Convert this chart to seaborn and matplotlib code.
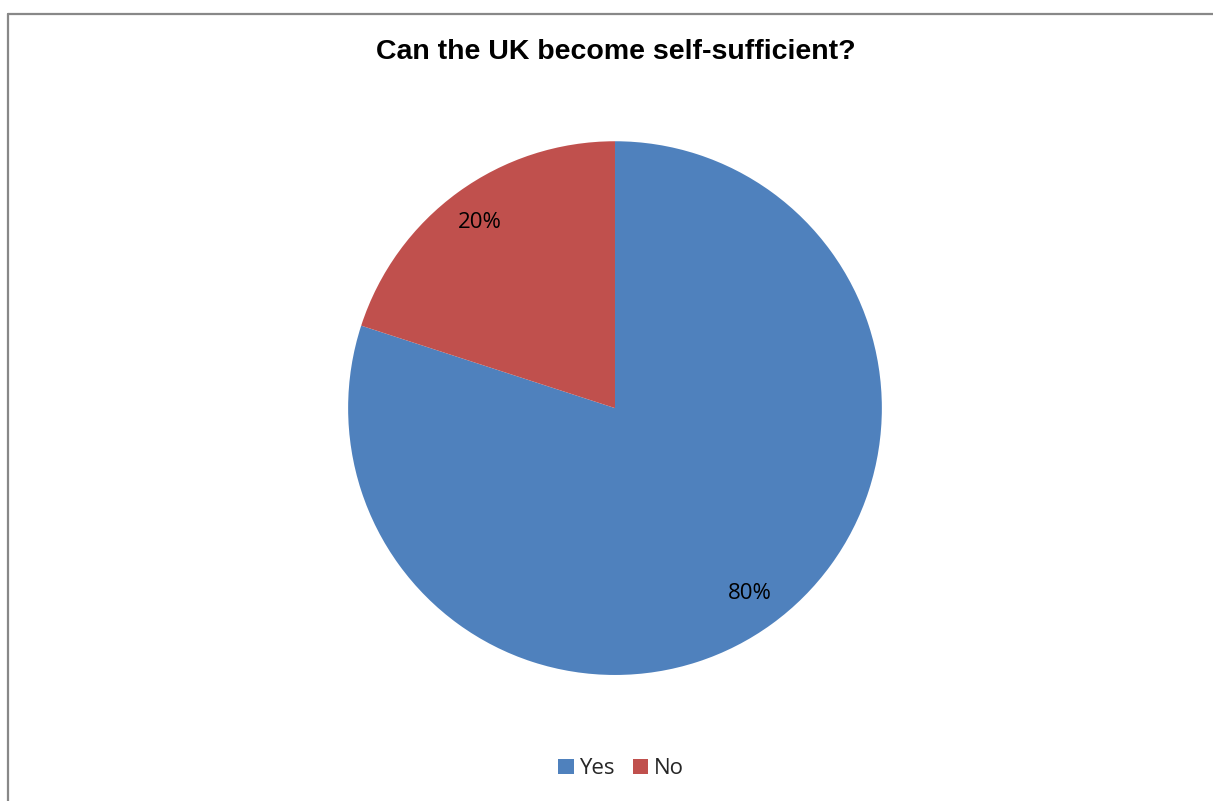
import matplotlib
matplotlib.use("Agg")
import matplotlib.pyplot as plt
import seaborn as sns
from matplotlib.lines import Line2D
from matplotlib.patches import Patch

# data
answers = ["Yes", "No"]
shares = [80, 20]
colors = ["#4F81BD", "#C0504D"]
title = "Can the UK become self-sufficient?"

sns.set_theme(style="white")
plt.rcParams["font.family"] = ["Liberation Sans", "DejaVu Sans"]
label_font = ["Open Sans", "DejaVu Sans"]

fig = plt.figure(figsize=(12.13, 8.01), dpi=100)
fig.patch.set_facecolor("white")

# axes placed so the pie sits where it does in the reference
ax = fig.add_axes([0.287, 0.157, 0.440, 0.667])
wedges, texts, autotexts = ax.pie(
    shares, colors=colors, startangle=90, counterclock=False,
    autopct="%1.0f%%", pctdistance=0.86,
    wedgeprops=dict(linewidth=0),
    textprops=dict(fontsize=16, color="black", family=label_font),
)
ax.set_aspect("equal")
ax.set_xlim(-1, 1)
ax.set_ylim(-1, 1)
ax.axis("off")

fig.text(0.508, 0.935, title, ha="center", va="center",
         fontsize=20.5, fontweight="bold", color="black")

handles = [Patch(facecolor=c, edgecolor="none", label=a) for a, c in zip(answers, colors)]
fig.legend(handles=handles, loc="center", bbox_to_anchor=(0.512, 0.040), ncol=2,
           frameon=False, handlelength=0.7, handleheight=0.7, handletextpad=0.25,
           columnspacing=0.8, prop=dict(family=label_font, size=16))

# chart-area border (only top and left edges fall inside the crop)
fig.add_artist(Line2D([0.0062, 1.0], [0.9819, 0.9819], color="#888888", linewidth=1.6))
fig.add_artist(Line2D([0.0062, 0.0062], [0.0, 0.9819], color="#888888", linewidth=1.6))

fig.savefig("out.png", dpi=100, facecolor="white")
